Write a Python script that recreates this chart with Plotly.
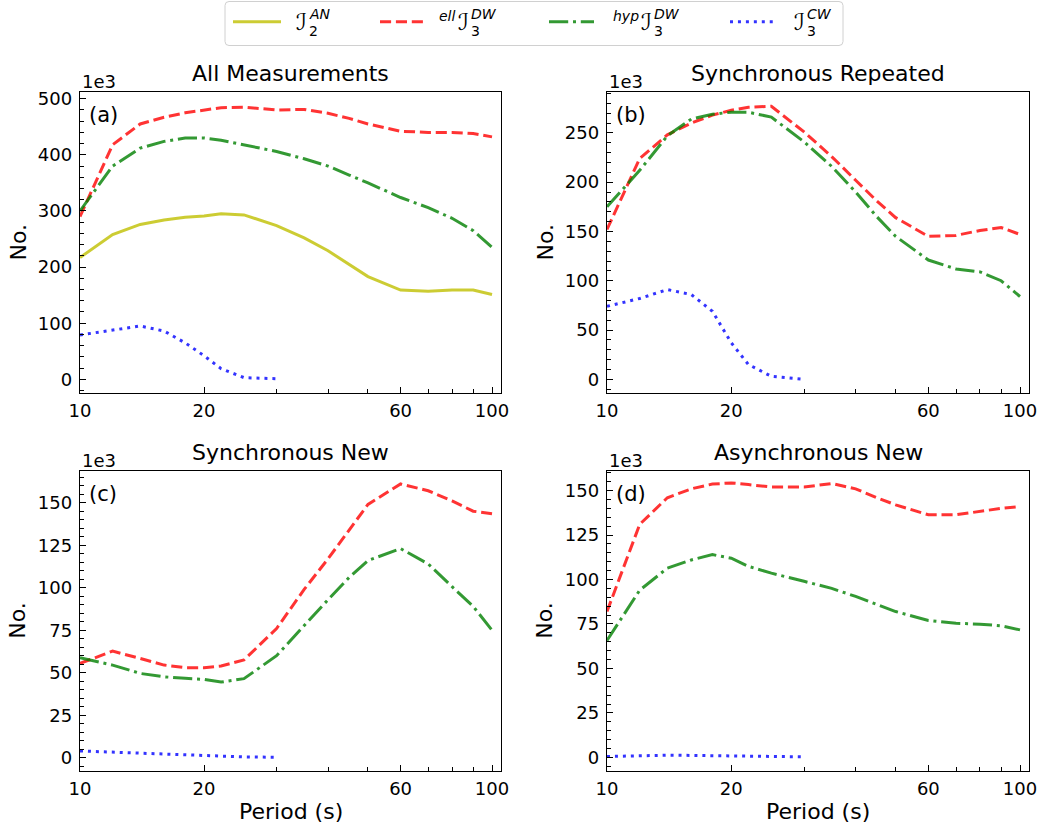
import plotly.graph_objects as go

W, H = 1042, 829

periods = [10, 12, 14, 16, 18, 20, 22, 25, 30, 35, 40, 45, 50, 60, 70, 80, 90, 100]
cw_periods = [10, 12, 14, 16, 18, 20, 22, 25, 30]

# values in units of 1e3
a_an = [217, 258, 276, 284, 289, 291, 295, 293, 274, 252, 229, 205, 183, 159, 157, 159, 159, 151]
a_ell = [290, 418, 455, 467, 475, 480, 484, 485, 480, 481, 474, 465, 455, 442, 440, 440, 438, 432]
a_hyp = [300, 380, 412, 424, 430, 430, 426, 418, 406, 393, 380, 364, 350, 324, 306, 287, 265, 235]
a_cw = [79, 88, 95, 86, 65, 42, 19, 3, 1]

b_ell = [152, 224, 248, 260, 268, 273, 276, 277, 251, 226, 202, 181, 164, 145, 146, 151, 154, 147]
b_hyp = [175, 212, 247, 264, 269, 271, 271, 266, 241, 216, 190, 165, 145, 121, 112, 109, 100, 84]
b_cw = [74, 82, 91, 86, 69, 37, 15, 3, 0]

c_ell = [55.5, 62.7, 58.4, 54.5, 53, 53, 54, 57.5, 76, 99, 117, 134, 149, 161, 157, 151, 145, 143.5]
c_hyp = [58.8, 54.5, 49.6, 47.6, 46.7, 46.1, 44.5, 46.5, 60, 78, 93, 106, 116, 123, 114, 100.6, 89, 75]
c_cw = [4, 3.3, 2.7, 2.2, 2, 1.5, 0.8, 0.5, 0.3]

d_ell = [82, 131, 146, 151, 153.7, 154.3, 153.4, 152, 152, 154, 151, 146, 142, 136.4, 136.4, 138.3, 140, 141]
d_hyp = [65.7, 94, 106.4, 111, 114, 112, 107.4, 103.6, 99, 95, 90.5, 86, 82, 77, 75.4, 74.9, 74, 71.7]
d_cw = [0.5, 1, 1.2, 1.1, 1, 0.9, 0.7, 0.5, 0.3]

titles = ["All Measurements", "Synchronous Repeated", "Synchronous New", "Asynchronous New"]
tags = ["(a)", "(b)", "(c)", "(d)"]
x_ticks = [10, 20, 60, 100]
x_minor = [30, 40, 50, 70, 80, 90]

FONT = "DejaVu Sans"
C_AN = "rgba(191,191,0,0.8)"
C_ELL = "rgba(255,0,0,0.8)"
C_HYP = "rgba(0,128,0,0.8)"
C_CW = "rgba(0,0,255,0.8)"
LW = 3
DASH_ELL = "11.1px,4.8px"
DASH_HYP = "19.2px,4.8px,3px,4.8px"
DASH_CW = "3px,4.95px"

# panel boxes in pixels: (left, right, top, bottom)
boxes = [(80, 501, 92, 393), (607, 1029, 92, 393), (80, 501, 470.7, 770.7), (607, 1029, 470.7, 770.7)]
y_ranges = [[-24.4, 512], [-13.9, 291.5], [-7.6, 168.8], [-7.5, 161.2]]
y_major = [100, 50, 25, 25]
y_minor = [20, 10, 5, 5]
y_max_tick = [500, 250, 150, 150]


def px(x):
    return x / W


def py(y):
    return 1 - y / H


fig = go.Figure()

panel_data = [
    [("an", a_an), ("ell", a_ell), ("hyp", a_hyp), ("cw", a_cw)],
    [("ell", b_ell), ("hyp", b_hyp), ("cw", b_cw)],
    [("ell", c_ell), ("hyp", c_hyp), ("cw", c_cw)],
    [("ell", d_ell), ("hyp", d_hyp), ("cw", d_cw)],
]
styles = {
    "an": dict(color=C_AN, width=LW, dash="solid"),
    "ell": dict(color=C_ELL, width=LW, dash=DASH_ELL),
    "hyp": dict(color=C_HYP, width=LW, dash=DASH_HYP),
    "cw": dict(color=C_CW, width=LW, dash=DASH_CW),
}

for i, series in enumerate(panel_data):
    sfx = "" if i == 0 else str(i + 1)
    for key, vals in series:
        xs = cw_periods if key == "cw" else periods
        fig.add_trace(go.Scatter(x=xs, y=vals, mode="lines", line=styles[key],
                                 xaxis="x" + sfx, yaxis="y" + sfx, showlegend=False,
                                 hoverinfo="skip"))

layout = dict(
    width=W, height=H, margin=dict(l=0, r=0, t=0, b=0, autoexpand=False),
    paper_bgcolor="white", plot_bgcolor="white",
    font=dict(family=FONT, color="black", size=18),
    showlegend=False,
)

annotations = []
shapes = []

for i in range(4):
    l, r, t, b = boxes[i]
    sfx = "" if i == 0 else str(i + 1)
    xa = dict(
        type="log", range=[1, 2.0218], domain=[px(l), px(r)], anchor="y" + sfx,
        automargin=False,
        showline=True, linecolor="black", linewidth=1.4, mirror=True,
        ticks="inside", ticklen=6, tickwidth=1.3, tickcolor="black",
        tickmode="array", tickvals=x_ticks, ticktext=[str(v) for v in x_ticks],
        minor=dict(tickmode="array", tickvals=x_minor, ticks="inside", ticklen=3.5,
                   tickwidth=1, tickcolor="black", showgrid=False),
        showgrid=False, zeroline=False,
        tickfont=dict(family=FONT, size=18, color="black"),
        ticklabelstandoff=1,
    )
    ya = dict(
        range=y_ranges[i], domain=[py(b), py(t)], anchor="x" + sfx,
        automargin=False,
        showline=True, linecolor="black", linewidth=1.4, mirror=True,
        ticks="inside", ticklen=6, tickwidth=1.3, tickcolor="black",
        tickmode="array", tickvals=list(range(0, y_max_tick[i] + 1, y_major[i])),
        minor=dict(dtick=y_minor[i], tick0=0, ticks="inside", ticklen=3.5,
                   tickwidth=1, tickcolor="black", showgrid=False),
        showgrid=False, zeroline=False,
        tickfont=dict(family=FONT, size=18, color="black"),
        ticklabelstandoff=3,
    )
    layout["xaxis" + sfx] = xa
    layout["yaxis" + sfx] = ya

    cx = (l + r) / 2
    annotations.append(dict(text=titles[i], x=px(cx), y=py(t - 18), xref="paper", yref="paper",
                            xanchor="center", yanchor="middle", showarrow=False,
                            font=dict(family=FONT, size=22, color="black")))
    annotations.append(dict(text="1e3", x=px(l), y=py(t - 10), xref="paper", yref="paper",
                            xanchor="left", yanchor="middle", showarrow=False,
                            font=dict(family=FONT, size=18, color="black")))
    annotations.append(dict(text=tags[i], x=px(l + 7), y=py(t + 23), xref="paper", yref="paper",
                            xanchor="left", yanchor="middle", showarrow=False,
                            font=dict(family=FONT, size=21, color="black")))
    annotations.append(dict(text="No.", x=px(l - 62), y=py((t + b) / 2), xref="paper", yref="paper",
                            xanchor="center", yanchor="middle", textangle=-90, showarrow=False,
                            font=dict(family=FONT, size=22, color="black")))
    if i >= 2:
        annotations.append(dict(text="Period (s)", x=px(cx), y=py(811), xref="paper", yref="paper",
                                xanchor="center", yanchor="middle", showarrow=False,
                                font=dict(family=FONT, size=22, color="black")))

# legend box (rounded rectangle)
L0, R0, T0, B0, rad = 225, 843, 1.5, 45.5, 4
path = (f"M {px(L0 + rad)},{py(T0)} L {px(R0 - rad)},{py(T0)} Q {px(R0)},{py(T0)} {px(R0)},{py(T0 + rad)} "
        f"L {px(R0)},{py(B0 - rad)} Q {px(R0)},{py(B0)} {px(R0 - rad)},{py(B0)} "
        f"L {px(L0 + rad)},{py(B0)} Q {px(L0)},{py(B0)} {px(L0)},{py(B0 - rad)} "
        f"L {px(L0)},{py(T0 + rad)} Q {px(L0)},{py(T0)} {px(L0 + rad)},{py(T0)} Z")
shapes.append(dict(type="path", path=path, xref="paper", yref="paper",
                   line=dict(color="#d0d0d0", width=1), fillcolor="white"))

legend_items = [
    ("an", 233, 281, None, "AN", "2", 295),
    ("ell", 380, 425, "ell", "DW", "3", 457),
    ("hyp", 549, 594, "hyp", "DW", "3", 640),
    ("cw", 730, 775, None, "CW", "3", 793),
]
LY = 21.7
for key, x0, x1, pre, sup, sub, ix in legend_items:
    st = styles[key]
    shapes.append(dict(type="line", x0=px(x0), x1=px(x1), y0=py(LY), y1=py(LY), xref="paper", yref="paper",
                       line=dict(color=st["color"], width=LW, dash=st["dash"])))
    if pre:
        annotations.append(dict(text=f"<i>{pre}</i>", x=px(ix), y=py(16), xref="paper", yref="paper",
                                xanchor="right", yanchor="middle", showarrow=False, borderpad=0,
                                font=dict(family=FONT, size=14, color="black")))
    annotations.append(dict(text="<i>ℐ</i>", x=px(ix), y=py(22), xref="paper", yref="paper",
                            xanchor="left", yanchor="middle", showarrow=False, borderpad=0,
                            font=dict(family=FONT, size=23, color="black")))
    annotations.append(dict(text=f"<i>{sup}</i>", x=px(ix + 13), y=py(14), xref="paper", yref="paper",
                            xanchor="left", yanchor="middle", showarrow=False, borderpad=0,
                            font=dict(family=FONT, size=14, color="black")))
    annotations.append(dict(text=sub, x=px(ix + 13), y=py(30.5), xref="paper", yref="paper",
                            xanchor="left", yanchor="middle", showarrow=False, borderpad=0,
                            font=dict(family=FONT, size=14, color="black")))

layout["annotations"] = annotations
layout["shapes"] = shapes
fig.update_layout(**layout)
fig.write_html("out.html")
